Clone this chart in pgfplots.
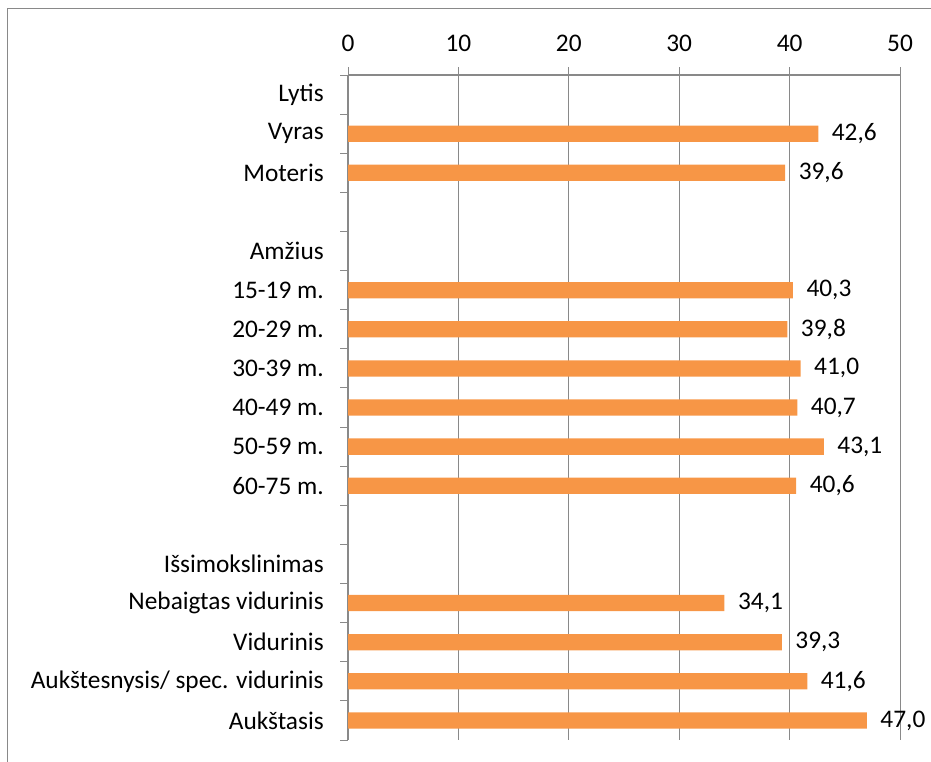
\documentclass[border=0pt]{standalone}
\usepackage{pgfplots}
\pgfplotsset{compat=1.18}
\usepackage{fontspec}
\setmainfont{Carlito}
\definecolor{barc}{HTML}{F79646}
\definecolor{gridc}{HTML}{898989}
\begin{document}
\begin{tikzpicture}[x=0.75pt,y=-0.75pt]
\useasboundingbox (0,0) rectangle (931,762);
\draw[gridc, line width=0.75pt] (7,762) -- (7,9) -- (931,9);
\begin{axis}[
  at={(261pt,-56.25pt)}, anchor=north west,
  width=414pt, height=498.75pt, scale only axis,
  xmin=0, xmax=50, ymin=0.5, ymax=17.5, y dir=reverse,
  axis x line*=top, axis y line*=left,
  xtick={0,10,...,50},
  xmajorgrids, grid style={gridc, line width=0.75pt},
  axis line style={gridc, line width=1.1pt},
  tick style={gridc, line width=0.75pt},
  tick align=outside, major tick length=6pt, minor tick length=6pt,
  ytick={1,...,17},
  yticklabels={Lytis,Vyras,Moteris,{},Amžius,15-19 m.,20-29 m.,30-39 m.,40-49 m.,50-59 m.,60-75 m.,{},Išsimokslinimas,Nebaigtas vidurinis,Vidurinis,Aukštesnysis/ spec. vidurinis,Aukštasis},
  major y tick style={draw=none},
  minor ytick={0.5,1.5,...,17.5},
  /pgf/number format/assume math mode=true,
  tick label style={font=\fontsize{19}{23}\selectfont, text=black},
  yticklabel style={inner sep=0pt, xshift=-12pt},
  xticklabel style={inner sep=0pt, yshift=11pt},
  point meta=x,
  nodes near coords={\pgfmathprintnumber[fixed,fixed zerofill,precision=1,use comma,assume math mode=true]{\pgfplotspointmeta}},
  every node near coord/.append style={font=\fontsize{19}{23}\selectfont, anchor=west, inner sep=0pt, xshift=10pt, text=black},
  clip=false,
]
\addplot[xbar, fill=barc, draw=none, bar width=12.2pt] coordinates {
(42.6,2) (39.6,3) (40.3,6) (39.8,7) (41.0,8) (40.7,9) (43.1,10) (40.6,11)
(34.1,14) (39.3,15) (41.6,16) (47.0,17)};
\end{axis}
\end{tikzpicture}
\end{document}
